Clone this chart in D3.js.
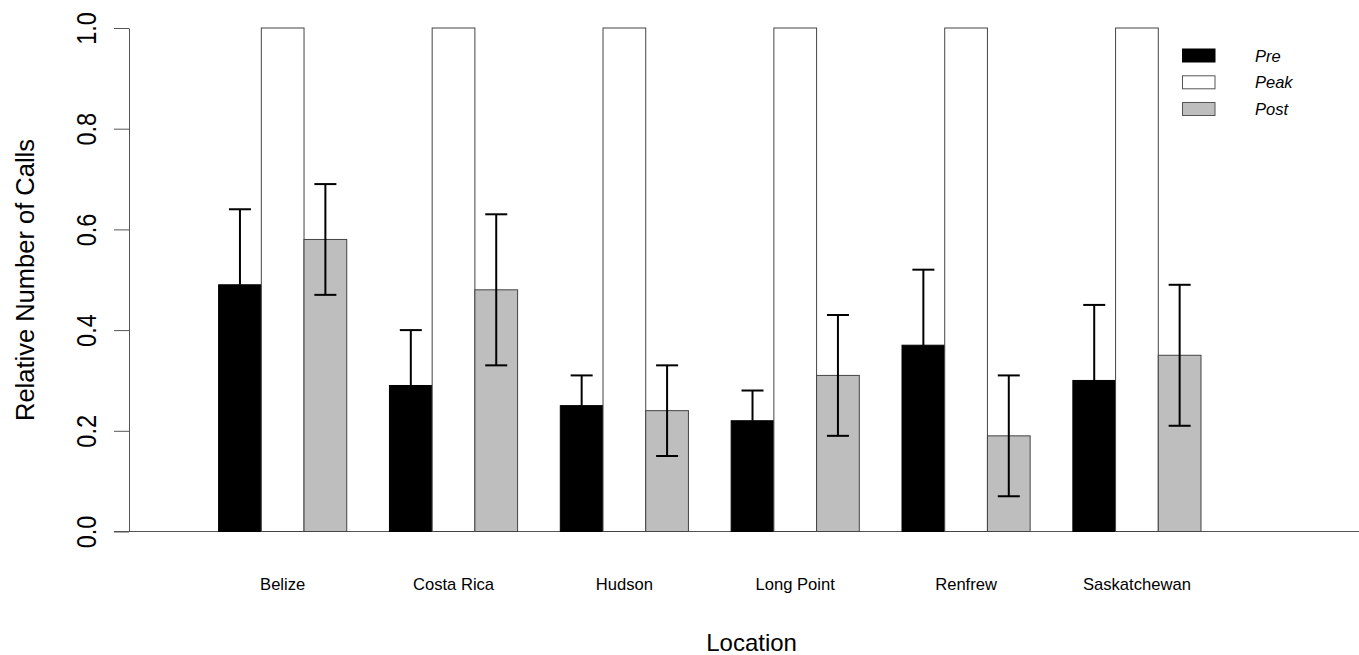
<!DOCTYPE html>
<html>
<head>
<meta charset="utf-8">
<script src="https://cdn.jsdelivr.net/npm/d3@7"></script>
<style>
  html, body { margin: 0; padding: 0; background: #fff; }
  svg { display: block; font-family: "Liberation Sans", Arial, sans-serif; }
</style>
</head>
<body>
<svg id="chart" width="1359" height="655"></svg>
<script>
// ---- data ----
const locations = ["Belize", "Costa Rica", "Hudson", "Long Point", "Renfrew", "Saskatchewan"];
const seriesNames = ["Pre", "Peak", "Post"];
const preValues  = [0.49, 0.29, 0.25, 0.22, 0.37, 0.30];
const peakValues = [1.00, 1.00, 1.00, 1.00, 1.00, 1.00];
const postValues = [0.58, 0.48, 0.24, 0.31, 0.19, 0.35];
const preUpper   = [0.64, 0.40, 0.31, 0.28, 0.52, 0.45];
const postLower  = [0.47, 0.33, 0.15, 0.19, 0.07, 0.21];
const postUpper  = [0.69, 0.63, 0.33, 0.43, 0.31, 0.49];
const yTicks = [0, 0.2, 0.4, 0.6, 0.8, 1.0];

const svg = d3.select("#chart");
const W = 1359, H = 655;

// scales (barplot units: group i, bar j occupies [1 + 4i + j, 2 + 4i + j])
const y = d3.scaleLinear().domain([0, 1]).range([531.5, 28]);
const x = d3.scaleLinear().domain([1, 24]).range([218.6, 1201]);

const fills = { Pre: "#000000", Peak: "#ffffff", Post: "#bebebe" };
const valuesBy = { Pre: preValues, Peak: peakValues, Post: postValues };

const bars = [];
locations.forEach((loc, i) => {
  seriesNames.forEach((s, j) => {
    bars.push({ loc, i, j, s, v: valuesBy[s][i], u: 1 + 4 * i + j });
  });
});

// baseline
svg.append("line")
  .attr("x1", 114).attr("x2", W)
  .attr("y1", y(0)).attr("y2", y(0))
  .attr("stroke", "#555").attr("stroke-width", 1);

// bars
svg.append("g").selectAll("rect").data(bars).join("rect")
  .attr("x", d => x(d.u))
  .attr("width", d => x(d.u + 1) - x(d.u))
  .attr("y", d => y(d.v))
  .attr("height", d => y(0) - y(d.v))
  .attr("fill", d => fills[d.s])
  .attr("stroke", d => d.s === "Pre" ? "#000" : "#444")
  .attr("stroke-width", 1);

// error bars
const capHalf = 11;
const eg = svg.append("g").attr("stroke", "#000").attr("stroke-width", 2).attr("fill", "none");
locations.forEach((loc, i) => {
  // Pre: upper only
  const cxPre = x(1 + 4 * i + 0.5);
  eg.append("line").attr("x1", cxPre).attr("x2", cxPre)
    .attr("y1", y(preValues[i])).attr("y2", y(preUpper[i]));
  eg.append("line").attr("x1", cxPre - capHalf).attr("x2", cxPre + capHalf)
    .attr("y1", y(preUpper[i])).attr("y2", y(preUpper[i]));
  // Post: both
  const cxPost = x(1 + 4 * i + 2.5);
  eg.append("line").attr("x1", cxPost).attr("x2", cxPost)
    .attr("y1", y(postLower[i])).attr("y2", y(postUpper[i]));
  [postLower[i], postUpper[i]].forEach(v => {
    eg.append("line").attr("x1", cxPost - capHalf).attr("x2", cxPost + capHalf)
      .attr("y1", y(v)).attr("y2", y(v));
  });
});

// y axis
const axisG = svg.append("g").attr("transform", "translate(129,0)")
  .call(d3.axisLeft(y).tickValues(yTicks).tickSize(15).tickSizeOuter(0).tickFormat(d3.format(".1f")));
axisG.select(".domain").attr("stroke", "#555");
axisG.selectAll(".tick line").attr("stroke", "#555");
axisG.selectAll(".tick text")
  .attr("x", null).attr("dy", null)
  .attr("transform", "translate(-33,0) rotate(-90) scale(1,1.15)")
  .attr("text-anchor", "middle")
  .attr("fill", "#000")
  .style("font-size", "23.5px")
  .style("font-family", "'Liberation Sans', Arial, sans-serif");

// category labels
svg.append("g").selectAll("text").data(locations).join("text")
  .attr("x", (d, i) => x(1 + 4 * i + 1.5))
  .attr("y", 590.3)
  .attr("text-anchor", "middle")
  .style("font-size", "16.6px")
  .text(d => d);

// axis titles
svg.append("text")
  .attr("x", 751.6).attr("y", 650.5)
  .attr("text-anchor", "middle")
  .style("font-size", "24px")
  .text("Location");

svg.append("text")
  .attr("transform", "translate(34,280) rotate(-90)")
  .attr("text-anchor", "middle")
  .style("font-size", "25.5px")
  .text("Relative Number of Calls");

// legend
const lg = svg.append("g");
const legendRows = [55.5, 82.3, 109];
seriesNames.forEach((s, k) => {
  lg.append("rect")
    .attr("x", 1182.5).attr("y", legendRows[k] - 6.5)
    .attr("width", 32.5).attr("height", 13)
    .attr("fill", fills[s])
    .attr("stroke", s === "Pre" ? "#000" : "#555")
    .attr("stroke-width", 1);
  lg.append("text")
    .attr("x", 1255).attr("y", legendRows[k] + 6)
    .style("font-size", "16.5px")
    .style("font-style", "italic")
    .text(s);
});
</script>
</body>
</html>
